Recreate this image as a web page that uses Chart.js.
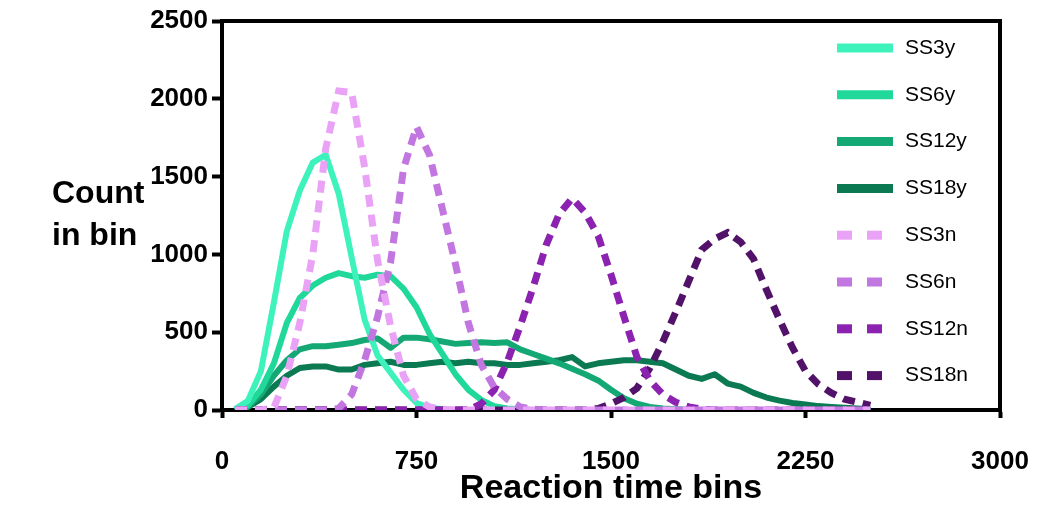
<!DOCTYPE html>
<html>
<head>
<meta charset="utf-8">
<script src="https://cdn.jsdelivr.net/npm/chart.js@4/dist/chart.umd.min.js"></script>
<style>
    body { margin: 0; background: #fff; }
    canvas { display: block; }
</style>
</head>
<body>
<canvas id="rtChart" width="1044" height="514"></canvas>
<script>
// reaction time bins (x)
const bins = [50, 100, 150, 200, 250, 300, 350, 400, 450, 500,
    550, 600, 650, 700, 750, 800, 850, 900, 950, 1000,
    1050, 1100, 1150, 1200, 1250, 1300, 1350, 1400, 1450, 1500,
    1550, 1600, 1650, 1700, 1750, 1800, 1850, 1900, 1950, 2000,
    2050, 2100, 2150, 2200, 2250, 2300, 2350, 2400, 2450, 2500];

const ss3y = [5, 60, 250, 690, 1150, 1410, 1590, 1640, 1390, 980,
    580, 350, 240, 130, 45, 15, 5, 0, 0, 0,
    0, 0, 0, 0, 0, 0, 0, 0, 0, 0,
    0, 0, 0, 0, 0, 0, 0, 0, 0, 0,
    0, 0, 0, 0, 0, 0, 0, 0, 0, 0];
const ss6y = [5, 30, 130, 300, 560, 720, 800, 850, 880, 860,
    850, 870, 860, 780, 660, 490, 360, 230, 130, 65,
    25, 10, 5, 0, 0, 0, 0, 0, 0, 0,
    0, 0, 0, 0, 0, 0, 0, 0, 0, 0,
    0, 0, 0, 0, 0, 0, 0, 0, 0, 0];
const ss12y = [0, 20, 100, 220, 320, 390, 410, 410, 420, 430,
    450, 460, 400, 465, 465, 455, 440, 425, 430, 435,
    430, 435, 390, 360, 330, 300, 265, 230, 190, 130,
    75, 40, 20, 10, 5, 0, 0, 0, 0, 0,
    0, 0, 0, 0, 0, 0, 0, 0, 0, 0];
const ss18y = [0, 20, 70, 150, 220, 270, 280, 280, 260, 260,
    290, 300, 310, 290, 290, 300, 310, 300, 310, 300,
    300, 290, 290, 300, 310, 320, 340, 280, 300, 310,
    320, 320, 310, 300, 260, 220, 200, 230, 170, 150,
    110, 80, 60, 45, 35, 25, 20, 15, 10, 5];
const ss3n = [0, 0, 0, 15, 220, 560, 1000, 1680, 2050, 2040,
    1560, 960, 540, 220, 70, 20, 5, 0, 0, 0,
    0, 0, 0, 0, 0, 0, 0, 0, 0, 0,
    0, 0, 0, 0, 0, 0, 0, 0, 0, 0,
    0, 0, 0, 0, 0, 0, 0, 0, 0, 0];
const ss6n = [0, 0, 0, 0, 0, 0, 0, 0, 10, 100,
    320, 600, 950, 1550, 1820, 1640, 1290, 940, 560, 290,
    145, 70, 20, 5, 0, 0, 0, 0, 0, 0,
    0, 0, 0, 0, 0, 0, 0, 0, 0, 0,
    0, 0, 0, 0, 0, 0, 0, 0, 0, 0];
const ss12n = [0, 0, 0, 0, 0, 0, 0, 0, 0, 0,
    0, 0, 0, 0, 0, 0, 0, 0, 0, 40,
    130, 310, 540, 790, 1060, 1260, 1360, 1270, 1120, 870,
    600, 340, 190, 100, 50, 20, 5, 0, 0, 0,
    0, 0, 0, 0, 0, 0, 0, 0, 0, 0];
const ss18n = [0, 0, 0, 0, 0, 0, 0, 0, 0, 0,
    0, 0, 0, 0, 0, 0, 0, 0, 0, 0,
    0, 0, 0, 0, 0, 0, 0, 0, 10, 40,
    80, 140, 270, 440, 630, 830, 1030, 1100, 1140, 1080,
    970, 770, 580, 400, 250, 165, 110, 70, 50, 30];

const xTicks = [0, 750, 1500, 2250, 3000];
const yTicks = [0, 500, 1000, 1500, 2000, 2500];

const seriesNames = ['SS3y', 'SS6y', 'SS12y', 'SS18y', 'SS3n', 'SS6n', 'SS12n', 'SS18n'];
const seriesValues = [ss3y, ss6y, ss12y, ss18y, ss3n, ss6n, ss12n, ss18n];
const seriesColors = ['#3ef2bc', '#1fd89a', '#13a874', '#0b7a52', '#e9a2f6', '#c276e0', '#8c22b0', '#52126a'];

const datasets = seriesNames.map((name, i) => {
    const dashed = name.endsWith('n');
    return {
        label: name,
        data: bins.map((b, j) => ({ x: b, y: seriesValues[i][j] })),
        borderColor: seriesColors[i],
        borderWidth: dashed ? 7 : 6,
        borderDash: dashed ? [12, 8] : [],
        borderCapStyle: 'butt',
        borderJoinStyle: dashed ? 'miter' : 'round',
        pointRadius: 0,
        tension: 0,
        fill: false,
        order: dashed ? 0 : 1
    };
});

// frame, y title and legend drawn on top
const extras = {
    id: 'extras',
    afterDraw(chart) {
        const { ctx, chartArea } = chart;
        ctx.save();
        ctx.strokeStyle = '#000';
        ctx.lineWidth = 4;
        ctx.beginPath();
        ctx.moveTo(chartArea.left - 2, chartArea.top);
        ctx.lineTo(chartArea.right, chartArea.top);
        ctx.lineTo(chartArea.right, chartArea.bottom + 2);
        ctx.stroke();

        ctx.fillStyle = '#000';
        ctx.font = 'bold 32px "Liberation Sans", Arial, sans-serif';
        ctx.textAlign = 'left';
        ctx.textBaseline = 'alphabetic';
        ctx.fillText('Count', 52, 203);
        ctx.fillText('in bin', 52, 245);

        ctx.font = '21px "Liberation Sans", Arial, sans-serif';
        ctx.textBaseline = 'middle';
        chart.data.datasets.forEach((ds, i) => {
            const y = 48 + i * 46.8;
            ctx.strokeStyle = ds.borderColor;
            ctx.lineWidth = 9;
            ctx.lineCap = 'butt';
            ctx.setLineDash(ds.borderDash.length ? [15, 15] : []);
            ctx.beginPath();
            ctx.moveTo(837, y);
            ctx.lineTo(893, y);
            ctx.stroke();
            ctx.setLineDash([]);
            ctx.fillStyle = '#000';
            ctx.fillText(ds.label, 905, y);
        });
        ctx.restore();
    }
};

const tickFont = { family: '"Liberation Sans", Arial, sans-serif', size: 26, weight: 'bold' };

new Chart(document.getElementById('rtChart').getContext('2d'), {
    type: 'line',
    data: { datasets: datasets },
    options: {
        responsive: false,
        animation: false,
        layout: { padding: { top: 21, right: 44, left: 0, bottom: 0 } },
        plugins: {
            legend: { display: false },
            tooltip: { enabled: false }
        },
        scales: {
            x: {
                type: 'linear',
                min: xTicks[0],
                max: xTicks[xTicks.length - 1],
                afterBuildTicks: scale => { scale.ticks = xTicks.map(v => ({ value: v })); },
                afterFit: scale => {
                    scale.height = 104;
                    scale.paddingLeft = 0;
                    scale.paddingRight = 0;
                },
                border: { color: '#000', width: 4 },
                grid: { drawOnChartArea: false, tickLength: 8, tickWidth: 4, tickColor: '#000' },
                ticks: { color: '#000', font: tickFont, padding: 28, maxRotation: 0, callback: v => String(v) },
                title: {
                    display: true,
                    text: 'Reaction time bins',
                    color: '#000',
                    font: { family: '"Liberation Sans", Arial, sans-serif', size: 34, weight: 'bold' },
                    padding: { top: 0, bottom: 5 }
                }
            },
            y: {
                min: yTicks[0],
                max: yTicks[yTicks.length - 1],
                afterBuildTicks: scale => { scale.ticks = yTicks.map(v => ({ value: v })); },
                afterFit: scale => { scale.width = 222; },
                border: { color: '#000', width: 4 },
                grid: { drawOnChartArea: false, tickLength: 10, tickWidth: 4, tickColor: '#000' },
                ticks: { color: '#000', font: tickFont, padding: 4, callback: v => String(v) }
            }
        }
    },
    plugins: [extras]
});
</script>
</body>
</html>
